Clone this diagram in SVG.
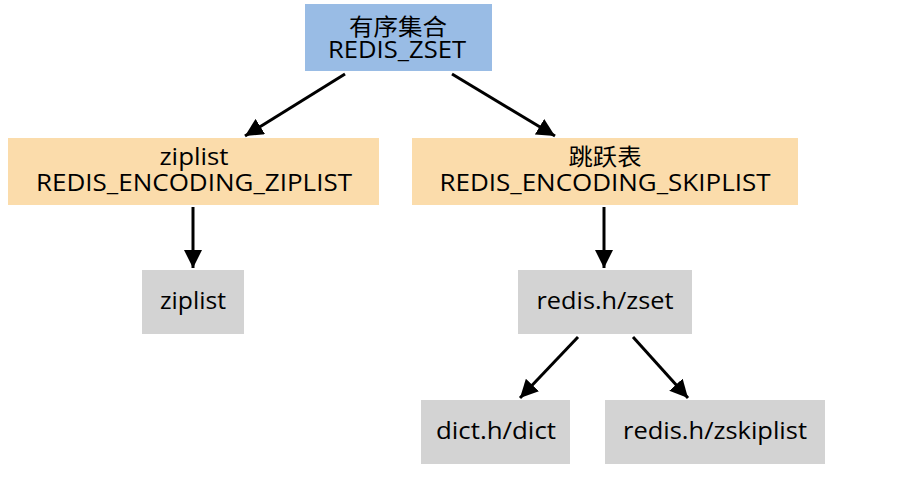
<svg xmlns="http://www.w3.org/2000/svg" width="919" height="492" viewBox="0 0 919 492">
<style>
text{font-family:"Open Sans","Noto Sans","Noto Sans CJK SC",sans-serif;font-size:23px;fill:#000;text-anchor:middle}
.blue{fill:#99bce5}
.peach{fill:#fbdcab}
.gray{fill:#d3d3d3}
.edge{stroke:#000;stroke-width:3;fill:none}
</style>
<defs>
<marker id="ah" viewBox="0 0 10 10" refX="10" refY="5" markerWidth="6" markerHeight="6" markerUnits="strokeWidth" orient="auto">
<path d="M0,0 L10,5 L0,10 z" fill="#000"/>
</marker>
</defs>
<rect width="919" height="492" fill="#fff"/>
<g id="zset">
<rect class="blue" x="305" y="4" width="187" height="67"/>
<text x="398" y="35" font-size="24" textLength="98" lengthAdjust="spacingAndGlyphs">有序集合</text>
<text x="397" y="58" textLength="138" lengthAdjust="spacingAndGlyphs">REDIS_ZSET</text>
</g>
<g id="enc-ziplist">
<rect class="peach" x="8" y="138" width="371" height="67"/>
<text x="194" y="165" textLength="69" lengthAdjust="spacingAndGlyphs">ziplist</text>
<text x="194" y="191" textLength="316" lengthAdjust="spacingAndGlyphs">REDIS_ENCODING_ZIPLIST</text>
</g>
<g id="enc-skiplist">
<rect class="peach" x="412" y="138" width="386" height="67"/>
<text x="605" y="165" font-size="24" textLength="73" lengthAdjust="spacingAndGlyphs">跳跃表</text>
<text x="605" y="191" textLength="331" lengthAdjust="spacingAndGlyphs">REDIS_ENCODING_SKIPLIST</text>
</g>
<g id="ziplist">
<rect class="gray" x="142" y="270" width="102" height="64"/>
<text x="193" y="309" textLength="66" lengthAdjust="spacingAndGlyphs">ziplist</text>
</g>
<g id="zset-struct">
<rect class="gray" x="518" y="270" width="174" height="64"/>
<text x="605" y="309" textLength="137" lengthAdjust="spacingAndGlyphs">redis.h/zset</text>
</g>
<g id="dict">
<rect class="gray" x="421" y="400" width="149" height="64"/>
<text x="496" y="439" textLength="120" lengthAdjust="spacingAndGlyphs">dict.h/dict</text>
</g>
<g id="zskiplist">
<rect class="gray" x="605" y="400" width="220" height="64"/>
<text x="715" y="439" textLength="184" lengthAdjust="spacingAndGlyphs">redis.h/zskiplist</text>
</g>
<g id="connectors">
<line class="edge" x1="345" y1="74" x2="245" y2="136" marker-end="url(#ah)"/>
<line class="edge" x1="452" y1="74" x2="555" y2="136" marker-end="url(#ah)"/>
<line class="edge" x1="193" y1="207" x2="193" y2="268" marker-end="url(#ah)"/>
<line class="edge" x1="604" y1="207" x2="604" y2="268" marker-end="url(#ah)"/>
<line class="edge" x1="578" y1="337" x2="520" y2="398" marker-end="url(#ah)"/>
<line class="edge" x1="633" y1="337" x2="688" y2="398" marker-end="url(#ah)"/>
</g>
</svg>
